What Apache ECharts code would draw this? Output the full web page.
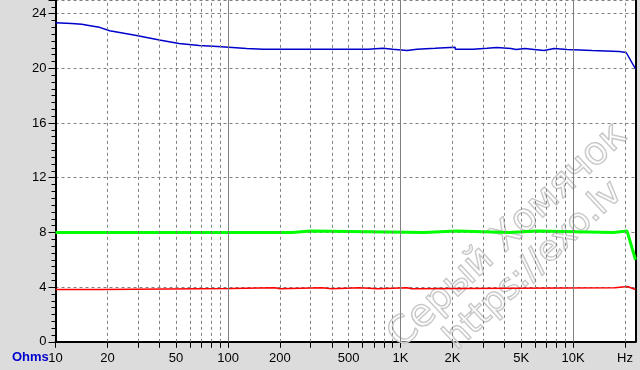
<!DOCTYPE html>
<html><head><meta charset="utf-8">
<script src="https://cdn.jsdelivr.net/npm/echarts@6/dist/echarts.min.js"></script>
<style>html,body{margin:0;padding:0;background:#dcdcdc}#c{width:640px;height:370px}</style>
</head><body><div id="c"></div>
<script>
// ---- data (Hz, Ohms) ----
const blueFreq = [10, 12.4, 14.2, 16.2, 18, 20.6, 29.5, 40, 52, 68, 87, 106, 128, 160, 310, 315, 327, 650, 660, 789, 795, 900, 905, 1089, 1095, 1245, 1250, 1585, 1590, 2068, 2080, 2630, 2640, 3170, 3180, 3615, 3630, 4364, 4400, 4667, 4700, 5263, 5300, 5934, 5970, 6790, 6830, 7258, 7300, 7762, 7800, 9226, 9280, 12880, 12950, 18490, 18600, 20310, 23000];
const blueVal  = [23.34, 23.29, 23.22, 23.1, 23.0, 22.75, 22.4, 22.08, 21.82, 21.67, 21.6, 21.53, 21.45, 21.4, 21.4, 21.3, 21.4, 21.4, 21.47, 21.47, 21.4, 21.4, 21.3, 21.3, 21.4, 21.4, 21.47, 21.47, 21.55, 21.55, 21.4, 21.4, 21.47, 21.47, 21.55, 21.52, 21.45, 21.45, 21.38, 21.38, 21.45, 21.45, 21.38, 21.38, 21.3, 21.3, 21.38, 21.38, 21.45, 21.45, 21.38, 21.38, 21.3, 21.3, 21.23, 21.23, 21.16, 21.16, 19.97];

const greenFreq = [10, 234, 236, 301, 303, 1370, 1380, 2110, 2120, 4260, 4290, 6160, 6190, 17060, 17200, 20560, 23000];
const greenVal  = [8.0, 8.0, 8.1, 8.1, 8.0, 8.0, 8.1, 8.1, 8.0, 8.0, 8.1, 8.1, 8.0, 8.0, 8.1, 8.1, 6.0];

const redFreq = [10, 18.2, 18.4, 104, 106, 187, 188, 200, 201, 350, 352, 400, 402, 580, 582, 740, 742, 1090, 1092, 1160, 1162, 17500, 17600, 20600, 23000];
const redVal  = [3.82, 3.82, 3.9, 3.9, 3.95, 3.95, 3.88, 3.88, 3.95, 3.95, 3.88, 3.88, 3.95, 3.95, 3.88, 3.88, 3.95, 3.95, 3.88, 3.88, 3.95, 3.95, 4.05, 4.05, 3.82];

// ---- axes ----
const xTickValues = [10,20,30,40,50,60,70,80,90,100,200,300,400,500,600,700,800,900,1000,2000,3000,4000,5000,6000,7000,8000,9000,10000,20000];
const xLabelValues = [10,20,50,100,200,500,1000,2000,5000,10000,20000];
const xLabelTexts  = ['10','20','50','100','200','500','1K','2K','5K','10K','Hz'];
const dashedGridFreq = [20,30,40,50,60,70,80,90,200,300,400,500,600,700,800,900,2000,3000,4000,5000,6000,7000,8000,9000,20000];
const solidGridFreq = [100,1000,10000];
const yLabelValues = [0,4,8,12,16,20,24];
const yUnit = 'Ohms';
const watermark1 = 'Серый Хомячок';
const watermark2 = 'https://exo.lv';

const zip = (a, b) => a.map((v, i) => [v, b[i]]);
function xLabel(v) {
  for (let i = 0; i < xLabelValues.length; i++) {
    if (Math.abs(Math.log10(v) - Math.log10(xLabelValues[i])) < 1e-6) return xLabelTexts[i];
  }
  return '';
}
const FONT = 'Liberation Sans';
const chart = echarts.init(document.getElementById('c'), null, {renderer: 'canvas'});
chart.setOption({
  animation: false,
  backgroundColor: '#dcdcdc',
  grid: {left: 55.5, right: 4.5, top: -2.4, bottom: 28.2, show: true, backgroundColor: '#ffffff', borderWidth: 0, containLabel: false},
  xAxis: {
    type: 'log', logBase: 10, min: 10, max: 23000,
    axisLine: {show: true, onZero: false, lineStyle: {color: '#000', width: 2}},
    axisTick: {show: true, customValues: xTickValues, length: 6, lineStyle: {color: '#000', width: 1}},
    axisLabel: {customValues: xLabelValues, formatter: xLabel, color: '#000', fontSize: 13, fontFamily: FONT, margin: 10},
    splitLine: {show: false}, minorTick: {show: false}, minorSplitLine: {show: false}
  },
  yAxis: [{
    type: 'value', min: 0, max: 25, interval: 4, position: 'left',
    axisLine: {show: true, onZero: false, lineStyle: {color: '#000', width: 2}},
    axisTick: {show: true, length: 7, lineStyle: {color: '#000', width: 1}},
    axisLabel: {customValues: yLabelValues, color: '#000', fontSize: 13, fontFamily: FONT, margin: 9},
    splitLine: {show: true, lineStyle: {color: '#808080', width: 1, type: [3, 3]}}
  }, {
    type: 'value', min: 0, max: 25, interval: 0.5, position: 'left',
    axisLine: {show: false},
    axisTick: {show: true, length: 4, lineStyle: {color: '#000', width: 1}},
    axisLabel: {show: false}, splitLine: {show: false}
  }, {
    type: 'value', min: 0, max: 25, position: 'right',
    axisLine: {show: true, lineStyle: {color: '#000', width: 2}},
    axisTick: {show: false}, axisLabel: {show: false}, splitLine: {show: false}
  }],
  series: [{
    type: 'line', data: [], z: 1, silent: true,
    markLine: {
      silent: true, symbol: ['none', 'none'], label: {show: false}, animation: false,
      data: dashedGridFreq.map(f => ({xAxis: f, lineStyle: {type: [3, 3], color: '#808080', width: 1}}))
        .concat(solidGridFreq.map(f => ({xAxis: f, lineStyle: {type: 'solid', color: '#808080', width: 1}})))
    }
  }, {
    name: 'red', type: 'line', data: zip(redFreq, redVal), showSymbol: false, z: 3,
    lineStyle: {color: '#ff0000', width: 1.5}
  }, {
    name: 'green', type: 'line', data: zip(greenFreq, greenVal), showSymbol: false, z: 3,
    lineStyle: {color: '#00ff00', width: 3}
  }, {
    name: 'blue', type: 'line', data: zip(blueFreq, blueVal), showSymbol: false, z: 3,
    lineStyle: {color: '#0000cc', width: 1.5}
  }],
  graphic: [{
    type: 'text', left: 12, top: 351, z: 10,
    style: {text: yUnit, font: 'bold 13px "Liberation Sans"', fill: '#0000cc'}
  }, {
    type: 'text', x: 508, y: 236, rotation: 43 * Math.PI / 180, z: 2, silent: true,
    style: {text: watermark1, font: '38px "DejaVu Sans"', fill: 'rgba(255,255,255,0.4)', stroke: '#bdbdbd', lineWidth: 1.5, align: 'center', verticalAlign: 'middle'}
  }, {
    type: 'text', x: 534, y: 266, rotation: 43 * Math.PI / 180, z: 2, silent: true,
    style: {text: watermark2, font: '35px "DejaVu Sans"', fill: 'rgba(255,255,255,0.4)', stroke: '#bdbdbd', lineWidth: 1.5, align: 'center', verticalAlign: 'middle'}
  }]
});
</script>
</body></html>
